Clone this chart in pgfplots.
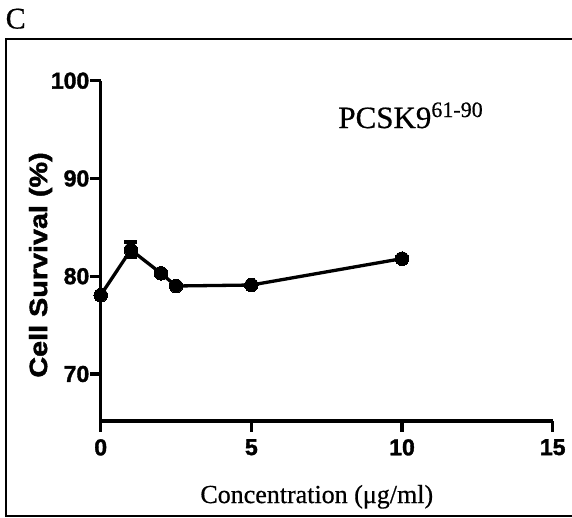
\documentclass[border=0pt]{standalone}
\usepackage{fontspec}
\setmainfont{Liberation Serif}[UprightFeatures={FakeBold=0.6}]
\setsansfont{Liberation Sans}
\newfontfamily\heavysans{Liberation Sans}[BoldFeatures={FakeBold=1.6}]
\usepackage{pgfplots}
\pgfplotsset{compat=1.18}

\begin{document}
\begin{tikzpicture}
\path[use as bounding box] (0pt,0pt) rectangle (572pt,-517pt);
\clip (0pt,0pt) rectangle (572pt,-517pt);
% panel letter and frame
\node[anchor=base west, inner sep=0pt, font=\fontsize{30}{32}\selectfont] at (5.5pt,-28.5pt) {C};
\draw[line width=2pt] (5.7pt,-39pt) rectangle (580pt,-515.5pt);
\begin{axis}[
    at={(100.7pt,-421pt)}, anchor=south west,
    scale only axis, width=452pt, height=340.3pt,
    xmin=0, xmax=15, ymin=65.19, ymax=100,
    axis x line=bottom, axis y line=left,
    axis line style={-, line width=3.3pt},
    xtick={0,5,10,15}, ytick={70,80,90,100},
    tick align=outside, major tick length=10.7pt,
    tick style={line width=3.3pt, black},
    /pgf/number format/assume math mode=true,
    ticklabel style={font=\fontsize{23}{26}\selectfont\heavysans\bfseries},
    yticklabel style={inner sep=0.5pt},
    xticklabel style={yshift=-4pt},
    xlabel={Concentration (μg/ml)},
    xlabel style={at={(axis cs:7.17,56.80)}, anchor=base, inner sep=0pt,
        font=\fontsize{26}{28}\selectfont},
    ylabel={\scalebox{1.15}[1]{Cell Survival (\%)}},
    ylabel style={at={(axis cs:-1.78,81.15)}, anchor=base, inner sep=0pt,
        font=\fontsize{25}{28}\selectfont\heavysans\bfseries},
    clip=false,
]
\addplot+[black, line width=3.3pt, mark=*, mark size=6.8pt,
    mark options={fill=black, line width=0pt},
    error bars/.cd, y dir=both, y explicit,
    error bar style={line width=3.3pt},
    error mark options={rotate=90, mark size=6.5pt, line width=3.3pt}]
    coordinates {
    (0,78.06) +- (0,0)
    (1,82.7) +- (0,0.8)
    (2,80.3) +- (0,0)
    (2.5,79.0) +- (0,0)
    (5,79.1) +- (0,0)
    (10,81.8) +- (0,0)
    };
\node[anchor=base west, inner sep=0pt, font=\fontsize{31}{33}\selectfont]
    at (axis cs:7.88,95.16) {PCSK9\raisebox{11pt}{\fontsize{22}{24}\selectfont 61-90}};
\end{axis}
\end{tikzpicture}
\end{document}
